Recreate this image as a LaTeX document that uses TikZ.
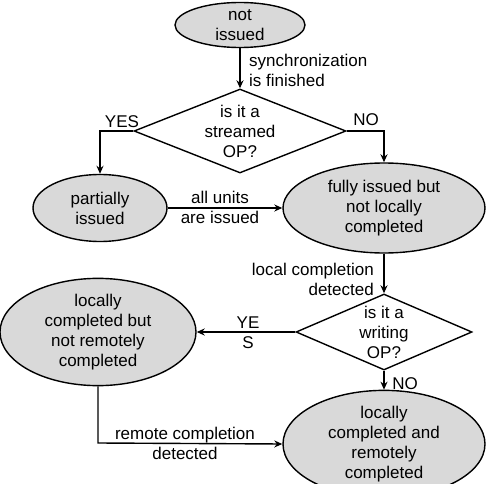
\documentclass[tikz,border=0pt]{standalone}
\usepackage{fontspec}
\setmainfont{Liberation Sans}
\usetikzlibrary{shapes.geometric,arrows.meta}
\definecolor{statefill}{RGB}{217,217,217}
\begin{document}
\begin{tikzpicture}[x=1pt,y=-1pt,
  every node/.style={font=\fontsize{17}{20}\selectfont},
  state/.style={ellipse,draw,line width=1.4pt,fill=statefill,inner sep=0pt,align=center},
  decision/.style={diamond,draw,line width=1.4pt,fill=white,inner sep=0pt,align=center},
  conn/.style={line width=1.4pt,-{Stealth[length=8pt,width=7pt]}},
  lbl/.style={inner sep=0pt,align=center}]
\useasboundingbox (0,0) rectangle (490,484);
\node[state,minimum width=130pt,minimum height=45pt] (ni) at (240,25) {not\\issued};
\node[decision,aspect=2.5,minimum width=212pt,minimum height=84pt] (d1) at (240,131) {is it a\\streamed\\OP?};
\node[state,minimum width=134pt,minimum height=67pt] (pi) at (100,208) {partially\\issued};
\node[state,minimum width=202pt,minimum height=90pt] (fi) at (384,208) {fully issued but\\not locally\\completed};
\node[decision,aspect=2.27,minimum width=176pt,minimum height=76pt] (d2) at (384,332) {is it a\\writing\\OP?};
\node[state,minimum width=196pt,minimum height=93pt] (lc) at (98,332) {locally\\completed but\\not remotely\\completed};
\node[state,minimum width=202pt,minimum height=96pt] (lr) at (384,444) {locally\\completed and\\remotely\\completed};

\coordinate (c1) at (100,131);
\coordinate (c2) at (384,131);
\coordinate (c3) at (98,443);

\draw[conn] (ni) -- (d1);
\draw[conn] (d1.west) -- (c1) -- (pi);
\draw[conn] (d1.east) -- (c2) -- (fi);
\draw[conn] (pi) -- (fi);
\draw[conn] (fi) -- (d2);
\draw[conn] (d2.west) -- (lc);
\draw[conn] (d2) -- (lr);
\draw[conn] (lc) -- (c3) -- (lr.west);

\node[lbl,anchor=west,align=left] (l1) at (249,70) {synchronization\\is finished};
\node[lbl] (l2) at (122,122) {YES};
\node[lbl] (l3) at (366,120) {NO};
\node[lbl] (l4) at (220,207) {all units\\are issued};
\node[lbl,anchor=east,align=right] (l5) at (374,279) {local completion\\detected};
\node[lbl] (l6) at (248,333) {YE\\S};
\node[lbl] (l7) at (405,384) {NO};
\node[lbl] (l8) at (185,443) {remote completion\\detected};
\end{tikzpicture}
\end{document}
